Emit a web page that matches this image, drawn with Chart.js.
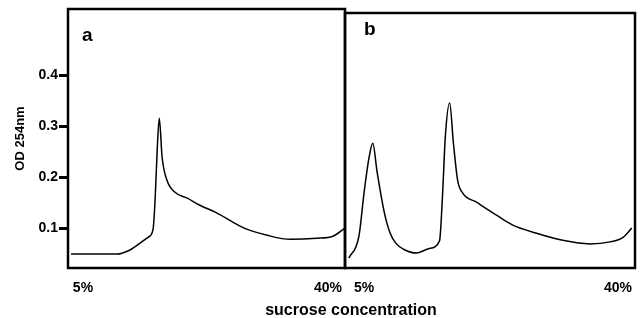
<!DOCTYPE html>
<html>
<head>
<meta charset="utf-8">
<script src="https://cdn.jsdelivr.net/npm/chart.js@4"></script>
<style>
  body { margin: 0; background: #fff; }
  #wrap { width: 640px; height: 318px; }
</style>
</head>
<body>
<div id="wrap"><canvas id="myChart" width="640" height="318"></canvas></div>
<script>
// panel a
var sucroseA = [3.3, 9.9, 11.4, 13.1, 14.3, 15.0, 15.3, 15.6, 15.9, 16.3, 17.0, 18.1, 19.9, 21.7, 24.1, 26.4, 28.4, 31.3, 34.6, 38.4, 40.7, 42.4];
var odA = [0.049, 0.049, 0.055, 0.07, 0.082, 0.097, 0.155, 0.253, 0.316, 0.24, 0.194, 0.171, 0.159, 0.145, 0.13, 0.112, 0.098, 0.086, 0.078, 0.08, 0.084, 0.1];
// panel b
var sucroseB = [2.9, 4.3, 5.0, 5.7, 6.2, 6.8, 7.8, 8.6, 9.4, 10.5, 12.2, 14.0, 15.4, 15.8, 16.2, 16.8, 17.3, 17.9, 18.6, 20.5, 23.3, 25.5, 28.8, 32.4, 36.1, 38.9, 40.7, 41.9];
var odB = [0.041, 0.085, 0.17, 0.24, 0.267, 0.21, 0.13, 0.09, 0.07, 0.058, 0.051, 0.06, 0.075, 0.16, 0.28, 0.346, 0.27, 0.194, 0.169, 0.151, 0.125, 0.106, 0.09, 0.076, 0.069, 0.073, 0.082, 0.1];
var yTicks = [0.1, 0.2, 0.3, 0.4];
var xTicks = [5, 40];
var panelLabels = ['a', 'b'];

function pts(xs, ys) {
  return xs.map(function (x, i) { return {x: x, y: ys[i]}; });
}

var fam = "'Liberation Sans', Arial, sans-serif";
var tickFont = {family: fam, size: 14, weight: 'bold'};

var framePlugin = {
  id: 'frames',
  afterDraw: function (chart) {
    var c = chart.ctx, area = chart.chartArea;
    var xa = chart.scales.xa, xb = chart.scales.xb;
    c.save();
    c.strokeStyle = '#000';
    c.lineWidth = 2.5;
    c.strokeRect(xa.left, area.top, xa.right - xa.left, area.bottom - area.top);
    c.strokeRect(xb.left, area.top + 4, xb.right - xb.left, area.bottom - area.top - 4);
    c.fillStyle = '#000';
    c.font = 'bold 19px ' + fam;
    c.textBaseline = 'alphabetic';
    c.fillText(panelLabels[0], xa.left + 14, area.top + 32);
    c.fillText(panelLabels[1], xb.left + 19, area.top + 26);
    c.font = 'bold 16px ' + fam;
    c.textAlign = 'center';
    c.fillText('sucrose concentration', 351, 315);
    c.restore();
  }
};

function fitX(s) {
  s.height = 50;
  s.paddingLeft = 0;
  s.paddingRight = 0;
}

var ctx = document.getElementById('myChart').getContext('2d');
var chart = new Chart(ctx, {
  type: 'line',
  data: {
    datasets: [
      {label: 'a', data: pts(sucroseA, odA), xAxisID: 'xa', yAxisID: 'y'},
      {label: 'b', data: pts(sucroseB, odB), xAxisID: 'xb', yAxisID: 'y'}
    ]
  },
  options: {
    responsive: false,
    animation: false,
    layout: {padding: {top: 9, right: 5, left: 0, bottom: 0}},
    elements: {
      line: {borderColor: '#000', borderWidth: 1.5, cubicInterpolationMode: 'monotone'},
      point: {radius: 0}
    },
    plugins: {legend: {display: false}, tooltip: {enabled: false}},
    scales: {
      xa: {
        type: 'linear', position: 'bottom', stack: 'x', stackWeight: 277,
        min: 2.86, max: 42.43,
        afterBuildTicks: function (s) { s.ticks = xTicks.map(function (v) { return {value: v}; }); },
        afterFit: fitX,
        grid: {display: false, drawTicks: false},
        border: {display: false},
        ticks: {color: '#000', font: tickFont, padding: 12, maxRotation: 0,
                callback: function (v) { return v + '%'; }}
      },
      xb: {
        type: 'linear', position: 'bottom', stack: 'x', stackWeight: 290,
        min: 2.37, max: 42.35,
        afterBuildTicks: function (s) { s.ticks = xTicks.map(function (v) { return {value: v}; }); },
        afterFit: fitX,
        grid: {display: false, drawTicks: false},
        border: {display: false},
        ticks: {color: '#000', font: tickFont, padding: 12, maxRotation: 0,
                callback: function (v) { return v + '%'; }}
      },
      y: {
        type: 'linear', min: 0.0216, max: 0.531,
        afterBuildTicks: function (s) { s.ticks = yTicks.map(function (v) { return {value: v}; }); },
        afterFit: function (s) { s.width = 68; s.paddingTop = 0; s.paddingBottom = 0; },
        grid: {drawOnChartArea: false, drawTicks: true, tickLength: 9, tickWidth: 3, tickColor: '#000'},
        border: {display: false},
        ticks: {color: '#000', font: tickFont, padding: 1,
                callback: function (v) { return v.toFixed(1); }},
        title: {display: true, text: 'OD 254nm', color: '#000', font: {family: fam, size: 13, weight: 'bold'}, padding: {top: 13, bottom: 0}}
      }
    }
  },
  plugins: [framePlugin]
});
</script>
</body>
</html>
